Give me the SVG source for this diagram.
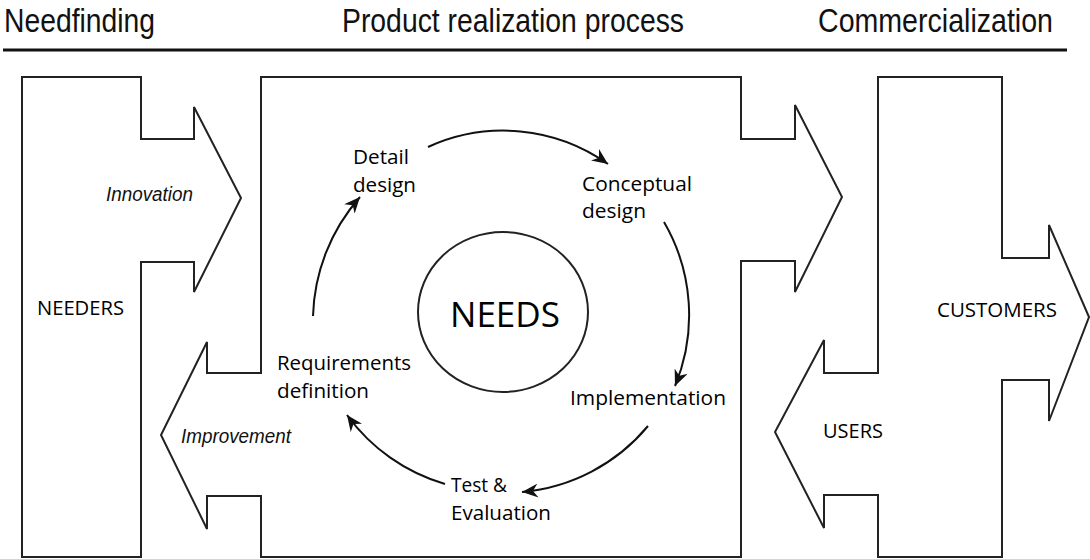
<svg xmlns="http://www.w3.org/2000/svg" width="1090" height="559" viewBox="0 0 1090 559">
  <defs>
    <marker id="arrow" markerUnits="userSpaceOnUse" markerWidth="18" markerHeight="14" refX="16" refY="7" orient="auto" viewBox="0 0 18 14">
      <path d="M0,0 L16,7 L0,14 L5,7 Z" fill="#111"/>
    </marker>
    <style>
      .shape { fill: none; stroke: #222; stroke-width: 2; stroke-linejoin: miter; }
      .conn { fill: none; stroke: #111; stroke-width: 2; }
      .head { font-family: "Liberation Sans", Arial, sans-serif; font-size: 33px; fill: #111; }
      .lbl { font-family: "Open Sans", "Noto Sans", sans-serif; font-size: 20px; fill: #000; }
      .ital { font-family: "Liberation Sans", Arial, sans-serif; font-size: 20px; font-style: italic; fill: #111; }
    </style>
  </defs>
  <rect width="1090" height="559" fill="#fff"/>

  <g id="header">
    <text class="head" x="4" y="32" textLength="151" lengthAdjust="spacingAndGlyphs">Needfinding</text>
    <text class="head" x="342" y="32" textLength="342" lengthAdjust="spacingAndGlyphs">Product realization process</text>
    <text class="head" x="818" y="32" textLength="235" lengthAdjust="spacingAndGlyphs">Commercialization</text>
    <line x1="3" y1="50" x2="1067" y2="50" stroke="#111" stroke-width="3"/>
  </g>

  <g id="needers">
    <path class="shape" d="M22,77 H141 V139 H194 V107 L241,198 L194,292 V262 H141 V557 H22 Z"/>
    <text class="lbl" x="37" y="315" textLength="87" lengthAdjust="spacingAndGlyphs">NEEDERS</text>
    <text class="ital" x="106" y="201" textLength="87" lengthAdjust="spacingAndGlyphs">Innovation</text>
  </g>

  <g id="product-realization">
    <path class="shape" d="M261,77 H741 V139 H795 V105 L842,197 L795,292 V261 H741 V557 H261 V496 H207 V529 L161,435 L207,342 V373 H261 Z"/>
    <text class="ital" x="181" y="443" textLength="110" lengthAdjust="spacingAndGlyphs">Improvement</text>
  </g>

  <g id="customers-users">
    <path class="shape" d="M878,77 H1002 V258 H1049 V225 L1089,317 L1049,421 V380 H1002 V557 H878 V495 H824 V528 L775,432 L824,340 V373 H878 Z"/>
    <text class="lbl" x="937" y="317" textLength="120" lengthAdjust="spacingAndGlyphs">CUSTOMERS</text>
    <text class="lbl" x="823" y="438" textLength="60" lengthAdjust="spacingAndGlyphs">USERS</text>
  </g>

  <g id="needs">
    <ellipse class="shape" cx="503" cy="312" rx="85" ry="80"/>
    <text class="lbl" x="505" y="327" text-anchor="middle" textLength="110" lengthAdjust="spacingAndGlyphs" style="font-size:35px">NEEDS</text>
  </g>

  <g id="detail-design">
    <text class="lbl" x="353" y="164" textLength="56" lengthAdjust="spacingAndGlyphs">Detail</text>
    <text class="lbl" x="353" y="192" textLength="63" lengthAdjust="spacingAndGlyphs">design</text>
  </g>
  <g id="conceptual-design">
    <text class="lbl" x="582" y="191" textLength="110" lengthAdjust="spacingAndGlyphs">Conceptual</text>
    <text class="lbl" x="582" y="218" textLength="64" lengthAdjust="spacingAndGlyphs">design</text>
  </g>
  <g id="implementation">
    <text class="lbl" x="570" y="405" textLength="156" lengthAdjust="spacingAndGlyphs">Implementation</text>
  </g>
  <g id="test-evaluation">
    <text class="lbl" x="451" y="492" textLength="56" lengthAdjust="spacingAndGlyphs">Test &amp;</text>
    <text class="lbl" x="451" y="520" textLength="100" lengthAdjust="spacingAndGlyphs">Evaluation</text>
  </g>
  <g id="requirements-definition">
    <text class="lbl" x="277" y="370" textLength="134" lengthAdjust="spacingAndGlyphs">Requirements</text>
    <text class="lbl" x="277" y="398" textLength="92" lengthAdjust="spacingAndGlyphs">definition</text>
  </g>

  <g id="connectors">
    <path class="conn" d="M428,147 A181,181 0 0 1 608,164" marker-end="url(#arrow)"/>
    <path class="conn" d="M664,222 A185,185 0 0 1 675,386" marker-end="url(#arrow)"/>
    <path class="conn" d="M648,426 A185,185 0 0 1 522,492" marker-end="url(#arrow)"/>
    <path class="conn" d="M445,484 A185,185 0 0 1 347,415" marker-end="url(#arrow)"/>
    <path class="conn" d="M313,316 A188,188 0 0 1 360,197" marker-end="url(#arrow)"/>
  </g>
</svg>
